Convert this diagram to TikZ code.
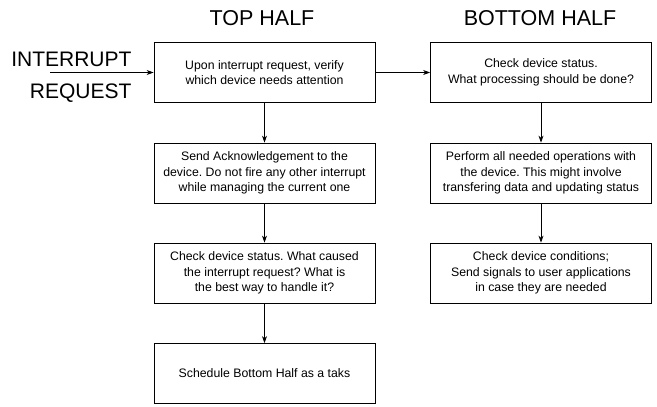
\documentclass[tikz,border=0pt]{standalone}
\usepackage{fontspec}
\setmainfont{Liberation Sans}
\usetikzlibrary{positioning, arrows.meta}

\begin{document}
\frenchspacing
\begin{tikzpicture}[x=1pt, y=-1pt]
    % Define styles
    \tikzset{
        stepbox/.style={draw, line width=0.8pt, minimum width=221pt, minimum height=60pt,
            inner sep=2pt, align=center, font=\fontsize{12.3}{15.7}\selectfont},
        halftitle/.style={font=\fontsize{21.5}{25}\selectfont},
        flow/.style={-{Stealth[length=7pt, width=5pt]}, line width=0.8pt}
    }
    \useasboundingbox (0,0) rectangle (657,407);

    % Define nodes
	\node[halftitle] (TopTitle) at (262, 18) {TOP HALF};
	\node[halftitle] (BottomTitle) at (540, 18) {BOTTOM HALF};
	\node[halftitle, align=right, anchor=east, font=\fontsize{21}{32}\selectfont] (IrqText) at (135, 77) {INTERRUPT\\REQUEST};
	\coordinate (IrqStart) at (50, 72.5);
	\node[stepbox] (Verify) at (264.5, 72.5) {Upon interrupt request, verify\\which device needs attention};
	\node[stepbox] (Ack) at (264.5, 173) {Send Acknowledgement to the\\device. Do not fire any other interrupt\\while managing the current one};
	\node[stepbox] (Cause) at (264.5, 273) {Check device status. What caused\\the interrupt request? What is\\the best way to handle it?};
	\node[stepbox] (Schedule) at (264.5, 373.5) {Schedule Bottom Half as a taks};
	\node[stepbox] (Status) at (541, 72.5) {Check device status.\\What processing should be done?};
	\node[stepbox] (Perform) at (541, 173) {Perform all needed operations with\\the device. This might involve\\transfering data and updating status};
	\node[stepbox] (Signal) at (541, 273) {Check device conditions;\\Send signals to user applications\\in case they are needed};

    % Draw connections
	\draw[flow] (IrqStart) -- (Verify);
	\draw[flow] (Verify) -- (Status);
	\draw[flow] (Verify) -- (Ack);
	\draw[flow] (Ack) -- (Cause);
	\draw[flow] (Cause) -- (Schedule);
	\draw[flow] (Status) -- (Perform);
	\draw[flow] (Perform) -- (Signal);
\end{tikzpicture}
\end{document}
